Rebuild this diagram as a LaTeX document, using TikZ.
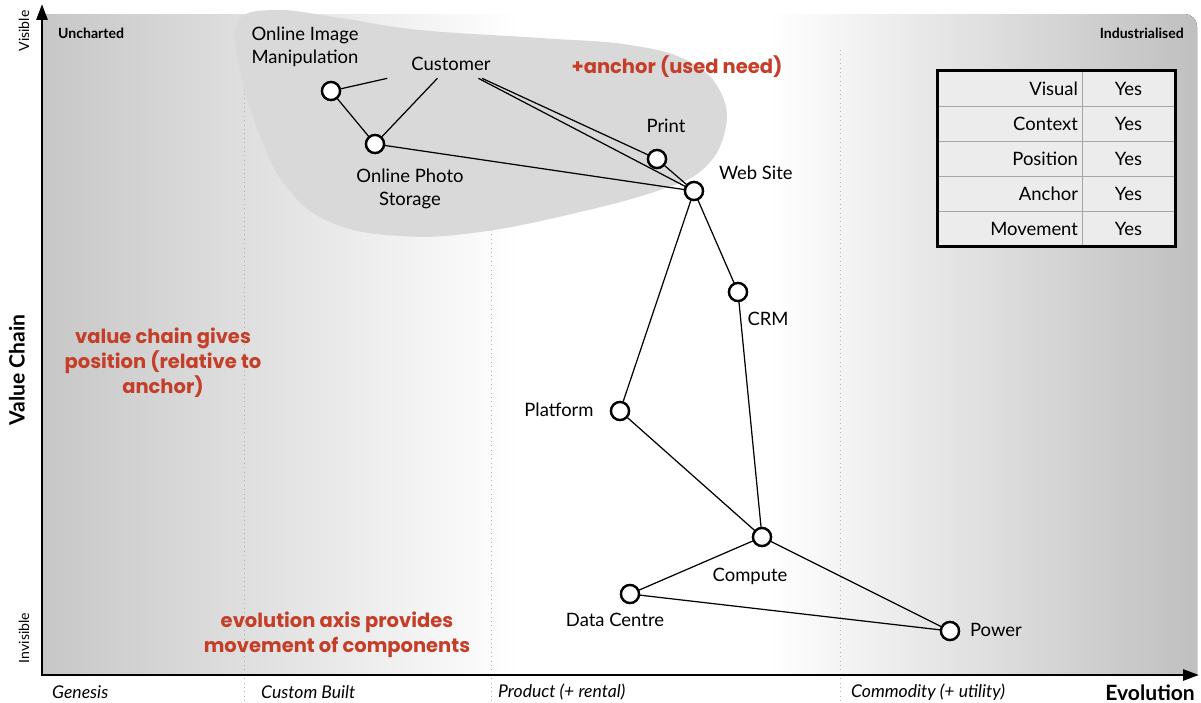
\documentclass[tikz,border=0pt]{standalone}
\usepackage{fontspec}
\setmainfont{Lato}
\newfontfamily\notefont{Poppins}
\usetikzlibrary{arrows.meta,positioning}

\definecolor{notered}{RGB}{196,62,40}
\definecolor{blobgray}{RGB}{217,217,217}
\definecolor{cellgray}{RGB}{236,236,236}

\begin{document}
\begin{tikzpicture}[x=0.02cm, y=-0.02cm,
  comp/.style={circle, draw, line width=1.3pt, fill=white, minimum size=0.36cm, inner sep=0pt},
  lbl/.style={font=\fontsize{10.5}{13}\selectfont, align=center, inner sep=1pt},
  link/.style={line width=0.7pt},
  note/.style={font=\notefont\bfseries\fontsize{11.1}{14.2}\selectfont, text=notered, align=center},
  stage/.style={font=\itshape\fontsize{10}{12}\selectfont, anchor=west},
  corner/.style={font=\bfseries\fontsize{8}{10}\selectfont},
  side/.style={font=\fontsize{8}{10}\selectfont, rotate=90},
  cellL/.style={draw=gray!70, fill=cellgray, text width=2.72cm, align=right, inner xsep=0.08cm, minimum height=0.7cm, font=\fontsize{10.5}{12}\selectfont},
  cellR/.style={draw=gray!70, fill=cellgray, minimum width=1.86cm, minimum height=0.7cm, font=\fontsize{10.5}{12}\selectfont},
  axis/.style={line width=1.6pt, -{Triangle[length=0.32cm, width=0.22cm]}},
  sep/.style={gray!60, dotted, line width=0.5pt},
]
\useasboundingbox (0,0) rectangle (1201,703);
\fill[white] (0,0) rectangle (1201,703);

% Background
\fill[left color=black!22, right color=white] (42,14) rectangle (520,675);
\fill[left color=white, right color=black!25] (770,675) -- (770,14)
  [rounded corners=0.25cm] -- (1197,14) [sharp corners] -- (1197,675) -- cycle;
\foreach \x in {244,491,840}
  \draw[sep] (\x,50) -- (\x,703);

% Anchor area
\fill[blobgray] plot[smooth cycle, tension=0.7] coordinates {
  (238,22) (275,10) (340,18) (420,30) (540,38) (630,45) (690,62) (722,95)
  (724,135) (702,170) (660,190) (580,212) (480,232) (400,236) (330,222)
  (285,185) (258,130) (240,70)};

% Axes
\coordinate (o) at (42,675);
\coordinate (ytip) at (42,4);
\coordinate (xtip) at (1199,675);
\draw[axis] (o) -- (ytip);
\draw[axis] ([xshift=-0.8pt]o) -- (xtip);

% Components
\node[lbl, minimum width=2.6cm, minimum height=0.56cm, inner sep=0pt] (cust) at (451,64) {Customer};
\node[comp] (oim) at (331,91) {};
\node[comp] (ops) at (375,144) {};
\node[comp] (print) at (657,159) {};
\node[comp] (web) at (694,191) {};
\node[comp] (crm) at (738,292) {};
\node[comp] (plat) at (620,411) {};
\node[comp] (compute) at (762,537) {};
\node[comp] (dc) at (630,594) {};
\node[comp] (power) at (950,631) {};

% Links
\draw[link] (cust) -- (oim);
\draw[link] (cust) -- (ops);
\draw[link] (oim) -- (ops);
\draw[link] (cust) -- (print);
\draw[link] (cust) -- (web);
\draw[link] (print) -- (web);
\draw[link] (ops) -- (web);
\draw[link] (web) -- (plat);
\draw[link] (web) -- (crm);
\draw[link] (crm) -- (compute);
\draw[link] (plat) -- (compute);
\draw[link] (compute) -- (dc);
\draw[link] (compute) -- (power);
\draw[link] (dc) -- (power);

% redraw circles over links
\foreach \n in {oim,ops,print,web,crm,plat,compute,dc,power}
  \node[comp] at (\n) {};

% Labels
\node[lbl] (oimlbl) at (305,47) {Online Image\\Manipulation};
\node[lbl] (opslbl) at (410,189) {Online Photo\\Storage};
\node[lbl] (printlbl) at (666,126) {Print};
\node[lbl, anchor=west] (weblbl) at (717,173) {Web Site};
\node[lbl] (crmlbl) at (768,319) {CRM};
\node[lbl] (platlbl) at (559,410) {Platform};
\node[lbl] (computelbl) at (750,576) {Compute};
\node[lbl] (dclbl) at (615,620) {Data Centre};
\node[lbl, anchor=west] (powerlbl) at (968,630) {Power};

% Axis labels
\node[corner, anchor=west] (unch) at (52,33) {Uncharted};
\node[corner, anchor=east] (ind) at (1190,33) {Industrialised};
\node[side] (vis) at (24,31) {Visible};
\node[side] (invis) at (24,638) {Invisible};
\node[font=\bfseries\fontsize{12}{14}\selectfont, rotate=90] (vchain) at (17,370) {Value Chain};
\node[font=\bfseries\fontsize{12}{14}\selectfont, anchor=east] (evo) at (1201,693) {Evolution};
\node[stage] (gen) at (46,692) {Genesis};
\node[stage] (custom) at (255,692) {Custom Built};
\node[stage] (prod) at (492,692) {Product (+ rental)};
\node[stage] (commod) at (845,692) {Commodity (+ utility)};

% Notes
\node[note] (n1) at (677,67) {+anchor (used need)};
\node[note] (n2) at (163,363) {value chain gives\\position (relative to\\anchor)};
\node[note] (n3) at (337,635) {evolution axis provides\\movement of components};

% Table
\foreach \k [count=\i] in {Visual,Context,Position,Anchor,Movement} {
  \node[cellL] (key\i) at (1010,53.5+35*\i) {\k};
  \node[cellR] (val\i) at (1128.5,53.5+35*\i) {Yes};
}
\draw[line width=1.8pt] (key1.north west) rectangle (val5.south east);

\end{tikzpicture}
\end{document}
